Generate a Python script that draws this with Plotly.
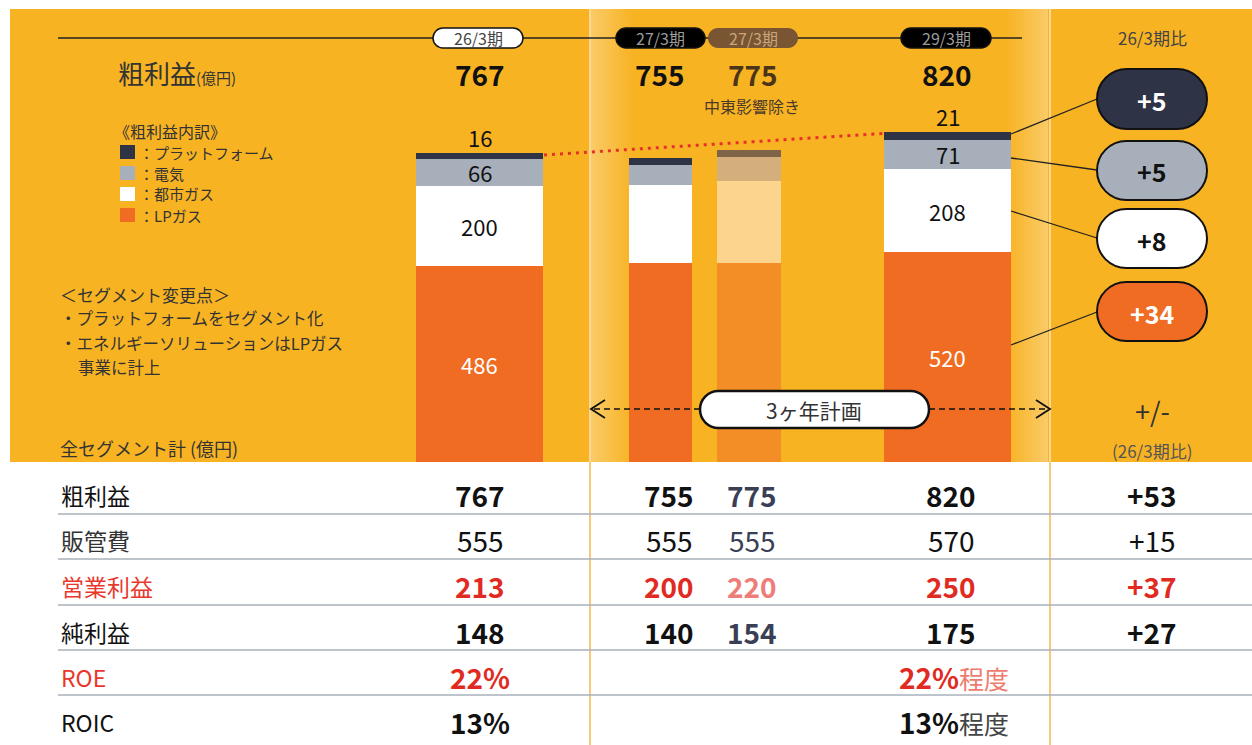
import plotly.graph_objects as go

W, H = 1252, 745
FONT = "Noto Sans CJK JP"

# ---------------- data ----------------
periods = ["26/3期", "27/3期", "27/3期(中東影響除き)", "29/3期"]
lp_gas = [486, 494, 494, 520]
city_gas = [200, 193, 203, 208]
electricity = [66, 51, 61, 71]
platform = [16, 17, 17, 21]
gross_totals = [767, 755, 775, 820]
seg_diff = ["+5", "+5", "+8", "+34"]  # platform, electricity, city gas, LP gas (vs 26/3)

row_labels = ["粗利益", "販管費", "営業利益", "純利益", "ROE", "ROIC"]
col_2603 = ["767", "555", "213", "148", "22%", "13%"]
col_2703 = ["755", "555", "200", "140", "", ""]
col_2703_ex = ["775", "555", "220", "154", "", ""]
col_2903 = ["820", "570", "250", "175", "22%", "13%"]
col_2903_suffix = ["", "", "", "", "程度", "程度"]
col_diff = ["+53", "+15", "+37", "+27", "", ""]

legend_items = ["プラットフォーム", "電気", "都市ガス", "LPガス"]

# ---------------- layout constants ----------------
BG = "#F8B323"
C_LP = ["#EF6C22", "#EF6C22", "#F38D25", "#EF6C22"]
C_CITY = ["#FFFFFF", "#FFFFFF", "#FDD48E", "#FFFFFF"]
C_ELEC = ["#A7AFBA", "#A7AFBA", "#D4AF7B", "#A7AFBA"]
C_PLAT = ["#2E3446", "#2E3446", "#7F6448", "#2E3446"]
bar_x = [479.5, 660.5, 749, 947.5]
bar_w = [127, 63, 64, 127]
BASE_PX = 462
PX_PER_UNIT = 0.403


def X(px):
    return px / W


def Y(py):
    return 1 - py / H


fig = go.Figure()
for vals, cols, nm in [(lp_gas, C_LP, "LPガス"), (city_gas, C_CITY, "都市ガス"),
                       (electricity, C_ELEC, "電気"), (platform, C_PLAT, "プラットフォーム")]:
    fig.add_trace(go.Bar(x=bar_x, y=vals, width=bar_w, name=nm,
                         marker=dict(color=cols, line=dict(width=0)),
                         showlegend=False, hoverinfo="skip"))

shapes = []
annotations = []


def ann(x, y, text, size, color="#222", xanchor="center", family=FONT):
    annotations.append(dict(x=X(x), y=Y(y), xref="paper", yref="paper", text=text,
                            showarrow=False, xanchor=xanchor, yanchor="middle",
                            font=dict(size=size, color=color, family=family)))


def rect(x0, y0, x1, y1, fill, layer="below", opacity=1.0, line=None):
    shapes.append(dict(type="rect", xref="paper", yref="paper", x0=X(x0), x1=X(x1),
                       y0=Y(y0), y1=Y(y1), fillcolor=fill, opacity=opacity, layer=layer,
                       line=line or dict(width=0)))


def line(x0, y0, x1, y1, color="#222", width=1.5, dash=None, layer="above"):
    d = dict(color=color, width=width)
    if dash:
        d["dash"] = dash
    shapes.append(dict(type="line", xref="paper", yref="paper", x0=X(x0), x1=X(x1),
                       y0=Y(y0), y1=Y(y1), line=d, layer=layer))


def pill(x0, y0, x1, y1, fill, lc="#111", lw=2):
    r = (y1 - y0) / 2
    k = 0.5523 * r
    ym = (y0 + y1) / 2
    pts = [("M", [(x0 + r, y0)]), ("L", [(x1 - r, y0)]),
           ("C", [(x1 - r + k, y0), (x1, ym - k), (x1, ym)]),
           ("C", [(x1, ym + k), (x1 - r + k, y1), (x1 - r, y1)]),
           ("L", [(x0 + r, y1)]),
           ("C", [(x0 + r - k, y1), (x0, ym + k), (x0, ym)]),
           ("C", [(x0, ym - k), (x0 + r - k, y0), (x0 + r, y0)])]
    s = ""
    for cmd, ps in pts:
        s += cmd + " " + " ".join(f"{X(a):.5f},{Y(b):.5f}" for a, b in ps) + " "
    s += "Z"
    shapes.append(dict(type="path", xref="paper", yref="paper", path=s, fillcolor=fill,
                       line=dict(color=lc, width=lw), layer="above"))


# backgrounds
rect(10, 9, W, BASE_PX, BG)
# highlighted plan band gradient edges
n = 10
for i in range(n):
    a = 0.30 * (1 - i / n)
    rect(591 + i * 4, 9, 595 + i * 4, BASE_PX, "white", opacity=a)
    rect(1048 - (i + 1) * 4, 9, 1048 - i * 4, BASE_PX, "white", opacity=a)
line(590, 9, 590, BASE_PX, color="#FCD79A", width=2, layer="below")
line(1050, 9, 1050, BASE_PX, color="#FCD79A", width=2, layer="below")
line(590, BASE_PX, 590, H, color="#F9C87A", width=2, layer="below")
line(1050, BASE_PX, 1050, H, color="#F9C87A", width=2, layer="below")

# header line and period pills
line(58, 38, 1022, 38, color="#222", width=1.5, layer="below")
pill(433, 28, 523, 48, "#FFFFFF", lw=1.5)
ann(478, 38, "26/3期", 16, "#444")
pill(616, 28, 705, 48, "#000000", lw=1.5)
ann(660, 38, "27/3期", 16, "#9C9C9C")
pill(708, 28, 798, 48, "#7A5533", lw=0)
ann(753, 38, "27/3期", 16, "#C9A57A")
pill(901, 28, 991, 48, "#000000", lw=1.5)
ann(946, 38, "29/3期", 16, "#9C9C9C")
ann(1152, 38, "26/3期比", 17, "#444")

# totals
tot_x = [480, 660, 753, 947]
tot_c = ["#111", "#111", "#4B3417", "#111"]
for tx, tv, tc in zip(tot_x, gross_totals, tot_c):
    ann(tx, 74, f"<b>{tv}</b>", 28, tc)
ann(752, 106, "中東影響除き", 16, "#4A3A2A")
ann(116, 72, "粗利益<span style='font-size:15px'>(億円)</span>", 26, "#333", xanchor="left")

# legend
ann(112, 131, "《粗利益内訳》", 16, "#333", xanchor="left")
leg_y = [152, 173, 194, 215]
leg_c = [C_PLAT[0], C_ELEC[0], C_CITY[0], C_LP[0]]
for ly, lc, lt in zip(leg_y, leg_c, legend_items):
    rect(120, ly - 7, 135, ly + 7, lc, layer="above")
    ann(137, ly, "：" + lt, 15, "#333", xanchor="left")

# notes
ann(58, 294, "＜セグメント変更点＞", 17, "#333", xanchor="left")
ann(58, 318, "・プラットフォームをセグメント化", 16.5, "#333", xanchor="left")
ann(58, 343, "・エネルギーソリューションはLPガス", 16.5, "#333", xanchor="left")
ann(76, 367, "事業に計上", 16.5, "#333", xanchor="left")
ann(58, 448, "全セグメント計 (億円)", 18, "#333", xanchor="left")

# bar segment labels for 26/3 and 29/3
for i in (0, 3):
    segs = [lp_gas[i], city_gas[i], electricity[i]]
    cols = ["white", "#111", "#111"]
    cum = 0
    for v, c in zip(segs, cols):
        annotations.append(dict(x=bar_x[i], y=cum + v / 2, xref="x", yref="y", text=str(v),
                                showarrow=False, font=dict(size=22, color=c, family=FONT)))
        cum += v
    annotations.append(dict(x=bar_x[i], y=gross_totals[i], xref="x", yref="y",
                            text=str(platform[i]), showarrow=False, yanchor="bottom",
                            yshift=-2, font=dict(size=22, color="#111", family=FONT)))

# red dotted trend line
shapes.append(dict(type="line", xref="paper", yref="paper",
                   x0=X(bar_x[0] + bar_w[0] / 2 + 1), y0=Y(BASE_PX - gross_totals[0] * PX_PER_UNIT + 2),
                   x1=X(bar_x[3] - bar_w[3] / 2 - 1), y1=Y(BASE_PX - gross_totals[3] * PX_PER_UNIT + 2),
                   line=dict(color="#E8302A", width=3, dash="3px,5px"), layer="above"))

# connectors and diff pills
conn = [((1011, 134), (1097, 99)), ((1011, 158), (1097, 170)),
        ((1011, 211), (1097, 238)), ((1011, 345), (1097, 312))]
for (a, b) in conn:
    line(a[0], a[1], b[0], b[1], color="#222", width=1.3)
pills = [(69, 129, C_PLAT[0], "white"), (141, 200, C_ELEC[0], "#111"),
         (209, 268, "#FFFFFF", "#111"), (282, 341, C_LP[0], "white")]
for (y0, y1, fc, tc), txt in zip(pills, seg_diff):
    pill(1097, y0, 1207, y1, fc, lw=2)
    ann(1152, (y0 + y1) / 2 + 1, f"<b>{txt}</b>", 25, tc)

# 3-year plan arrow
line(594, 409, 700, 409, color="#111", width=1.5, dash="6px,4px")
line(929, 409, 1048, 409, color="#111", width=1.5, dash="6px,4px")
shapes.append(dict(type="path", xref="paper", yref="paper",
                   path=f"M {X(605)},{Y(400)} L {X(591)},{Y(409)} L {X(605)},{Y(418)}",
                   line=dict(color="#111", width=1.8), layer="above"))
shapes.append(dict(type="path", xref="paper", yref="paper",
                   path=f"M {X(1036)},{Y(400)} L {X(1050)},{Y(409)} L {X(1036)},{Y(418)}",
                   line=dict(color="#111", width=1.8), layer="above"))
pill(700, 391, 929, 428, "#FFFFFF", lw=2.5)
ann(814, 410, "3ヶ年計画", 21, "#333")
ann(1152, 410, "+/-", 27, "#333")
ann(1152, 450, "(26/3期比)", 17, "#555")

# table
row_y = [495, 540, 586, 632, 677, 722]
sep_y = [514, 559, 605, 650, 695]
for sy in sep_y:
    line(58, sy, W, sy, color="#A9B0BA", width=1.5, layer="below")
label_c = ["#111", "#333", "#E8382E", "#111", "#E8382E", "#111"]
bold_rows = [True, False, True, True, True, True]
val_c = ["#111", "#111", "#E02A22", "#111", "#E02A22", "#111"]
ex_c = ["#3A3F55", "#3A3F55", "#EE7C78", "#3A3F55", "#3A3F55", "#3A3F55"]
suffix_c = ["#333", "#333", "#333", "#333", "#EE7C6E", "#444"]
for i, ry in enumerate(row_y):
    ann(59, ry, row_labels[i], 23, label_c[i], xanchor="left")

    def fmt(t, b=bold_rows[i]):
        return f"<b>{t}</b>" if (b and t) else t
    if col_2603[i]:
        ann(480, ry, fmt(col_2603[i]), 28, val_c[i])
    if col_2703[i]:
        ann(669, ry, fmt(col_2703[i]), 28, val_c[i])
    if col_2703_ex[i]:
        ann(752, ry, fmt(col_2703_ex[i]), 28, ex_c[i])
    if col_2903[i]:
        txt = fmt(col_2903[i])
        if col_2903_suffix[i]:
            txt += f"<span style='color:{suffix_c[i]};font-size:25px'>{col_2903_suffix[i]}</span>"
            ann(897, ry, txt, 28, val_c[i], xanchor="left")
        else:
            ann(951, ry, txt, 28, val_c[i])
    if col_diff[i]:
        ann(1152, ry, fmt(col_diff[i]), 28, val_c[i])

fig.update_layout(
    width=W, height=H, margin=dict(l=0, r=0, t=0, b=0),
    paper_bgcolor="white", plot_bgcolor="rgba(0,0,0,0)",
    barmode="stack", bargap=0,
    xaxis=dict(range=[0, W], domain=[0, 1], visible=False, fixedrange=True),
    yaxis=dict(range=[0, BASE_PX / PX_PER_UNIT], domain=[(H - BASE_PX) / H, 1],
               visible=False, fixedrange=True),
    shapes=shapes, annotations=annotations, showlegend=False,
    font=dict(family=FONT),
)

fig.write_html("out.html", config={"displayModeBar": False},
               post_script="document.body.style.margin='0';document.body.style.overflow='hidden';")
